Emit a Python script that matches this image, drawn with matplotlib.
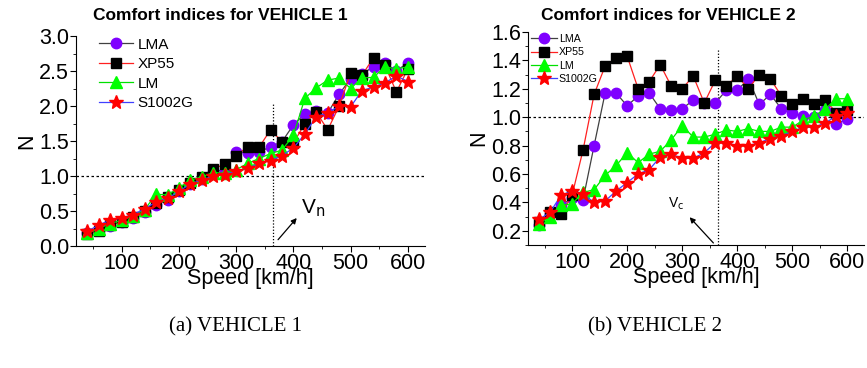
import matplotlib
matplotlib.use("Agg")
import matplotlib.pyplot as plt
from matplotlib.ticker import MultipleLocator

speed = [40, 60, 80, 100, 120, 140, 160, 180, 200, 220, 240, 260, 280, 300, 320,
         340, 360, 380, 400, 420, 440, 460, 480, 500, 520, 540, 560, 580, 600]

v1_lma = [0.18, 0.23, 0.29, 0.35, 0.40, 0.49, 0.59, 0.66, 0.79, 0.88, 0.96, 1.06, 1.09, 1.35, 1.33,
          1.34, 1.42, 1.49, 1.73, 1.89, 1.93, 1.90, 2.17, 2.39, 2.46, 2.56, 2.61, 2.50, 2.62]
v1_xp55 = [0.17, 0.22, 0.30, 0.35, 0.42, 0.50, 0.62, 0.70, 0.80, 0.90, 0.98, 1.10, 1.17, 1.29, 1.42,
           1.41, 1.66, 1.49, 1.47, 1.75, 1.91, 1.66, 2.00, 2.47, 2.44, 2.69, 2.58, 2.20, 2.53]
v1_lm = [0.18, 0.25, 0.32, 0.37, 0.43, 0.52, 0.74, 0.73, 0.83, 0.94, 0.99, 1.05, 1.04, 1.09, 1.18,
         1.25, 1.32, 1.37, 1.58, 2.11, 2.26, 2.37, 2.40, 2.25, 2.40, 2.41, 2.56, 2.53, 2.56]
v1_s1002g = [0.21, 0.30, 0.37, 0.40, 0.45, 0.53, 0.63, 0.68, 0.78, 0.89, 0.94, 1.00, 1.02, 1.07, 1.11,
             1.18, 1.22, 1.29, 1.40, 1.60, 1.85, 1.90, 2.00, 1.99, 2.22, 2.27, 2.33, 2.43, 2.35]

v2_lma = [0.24, 0.32, 0.38, 0.43, 0.42, 0.80, 1.17, 1.17, 1.08, 1.15, 1.17, 1.06, 1.05, 1.06, 1.12,
          1.10, 1.10, 1.19, 1.19, 1.27, 1.09, 1.16, 1.06, 1.03, 1.01, 1.00, 1.05, 0.95, 0.99]
v2_xp55 = [0.26, 0.33, 0.32, 0.45, 0.77, 1.16, 1.36, 1.42, 1.43, 1.20, 1.25, 1.37, 1.22, 1.20, 1.29,
           1.10, 1.26, 1.22, 1.29, 1.20, 1.30, 1.27, 1.15, 1.09, 1.13, 1.09, 1.12, 1.03, 1.05]
v2_lm = [0.25, 0.30, 0.38, 0.39, 0.47, 0.49, 0.59, 0.66, 0.75, 0.68, 0.74, 0.76, 0.84, 0.94, 0.86,
         0.86, 0.88, 0.91, 0.90, 0.92, 0.90, 0.90, 0.93, 0.93, 0.98, 1.01, 1.06, 1.13, 1.13]
v2_s1002g = [0.28, 0.33, 0.45, 0.48, 0.46, 0.40, 0.41, 0.48, 0.54, 0.60, 0.63, 0.72, 0.74, 0.71, 0.71,
             0.75, 0.82, 0.82, 0.80, 0.80, 0.82, 0.85, 0.87, 0.90, 0.93, 0.93, 0.96, 1.01, 1.03]

series_names = ["LMA", "XP55", "LM", "S1002G"]
titles = ["Comfort indices for VEHICLE 1", "Comfort indices for VEHICLE 2"]
captions = ["(a) VEHICLE 1", "(b) VEHICLE 2"]
v_ref = 365

plt.rcParams['font.family'] = ['Liberation Sans', 'DejaVu Sans']

fig = plt.figure(figsize=(8.67, 3.68), dpi=100)
W, H = 867, 368


def add_axes(l, r, t, b):
    return fig.add_axes([l / W, 1 - b / H, (r - l) / W, (b - t) / H])


ax1 = add_axes(76, 425, 36, 246)
ax2 = add_axes(528, 864, 32, 245)

styles = [
    dict(color="#404040", marker="o", mfc="#7f00ff", mec="#7f00ff", ms=7.5),
    dict(color="#ff2020", marker="s", mfc="black", mec="black", ms=6.8),
    dict(color="#00e000", marker="^", mfc="#00ff00", mec="#00ff00", ms=8),
    dict(color="#4040ff", marker="*", mfc="red", mec="red", ms=10),
]

data = [
    (ax1, [v1_lma, v1_xp55, v1_lm, v1_s1002g]),
    (ax2, [v2_lma, v2_xp55, v2_lm, v2_s1002g]),
]

for i, (ax, series) in enumerate(data):
    for name, vals, st in zip(series_names, series, styles):
        ax.plot(speed, vals, lw=0.9, label=name, **st)
    ax.set_xlim(20, 630)
    ax.xaxis.set_major_locator(MultipleLocator(100))
    ax.xaxis.set_minor_locator(MultipleLocator(50))
    ax.spines['top'].set_visible(False)
    ax.spines['right'].set_visible(False)
    ax.tick_params(axis='both', which='major', direction='out', length=4, labelsize=15.5, pad=1)
    ax.tick_params(axis='both', which='minor', direction='out', length=2.5)
    ax.set_xlabel("Speed [km/h]", fontsize=15.5, labelpad=-4)
    ax.set_ylabel("N", fontsize=15.5, labelpad=1)
    ax.axhline(1.0, color="black", ls=(0, (2, 2)), lw=0.9, zorder=0)

fig.text(220 / W, 1 - 16 / H, titles[0], fontsize=12.5, fontweight='bold', ha='center', va='center')
fig.text(668 / W, 1 - 15 / H, titles[1], fontsize=12.5, fontweight='bold', ha='center', va='center')

ax1.set_ylim(0, 3.0)
ax1.set_yticks([0.0, 0.5, 1.0, 1.5, 2.0, 2.5, 3.0])
ax1.set_yticklabels(["0.0", "0.5", "1.0", "1.5", "2.0", "2.5", "3.0"])
ax1.yaxis.set_minor_locator(MultipleLocator(0.25))
ax1.plot([v_ref, v_ref], [0, 2.05], color="black", ls=(0, (1, 1.5)), lw=0.9, zorder=0)
ax1.annotate("", xy=(409, 0.43), xytext=(370, 0.06),
             arrowprops=dict(arrowstyle="-|>", color="black", lw=0.9, mutation_scale=8))
ax1.text(414, 0.46, r"V$_{\mathrm{n}}$", fontsize=15, ha='left', va='baseline')
ax1.legend(loc='upper left', bbox_to_anchor=(0.04, 1.035), frameon=False, fontsize=11,
           handlelength=2.2, handletextpad=0.3, labelspacing=0.35, borderaxespad=0.2)

ax2.set_ylim(0.1, 1.6)
ax2.set_yticks([0.2, 0.4, 0.6, 0.8, 1.0, 1.2, 1.4, 1.6])
ax2.set_yticklabels(["0.2", "0.4", "0.6", "0.8", "1.0", "1.2", "1.4", "1.6"])
ax2.yaxis.set_minor_locator(MultipleLocator(0.1))
ax2.plot([v_ref, v_ref], [0.1, 1.48], color="black", ls=(0, (1, 1.5)), lw=0.9, zorder=0)
ax2.annotate("", xy=(310, 0.31), xytext=(360, 0.1),
             arrowprops=dict(arrowstyle="-|>", color="black", lw=0.9, mutation_scale=8))
ax2.text(274, 0.36, r"V$_{\mathrm{c}}$", fontsize=10, ha='left', va='baseline')
ax2.legend(loc='upper left', bbox_to_anchor=(-0.01, 1.02), frameon=False, fontsize=7.7,
           handlelength=2.4, handletextpad=0.2, labelspacing=0.3, borderaxespad=0.2)

for xc, cap in zip([235, 655], captions):
    fig.text(xc / W, 1 - 327 / H, cap, fontsize=15, ha='center', va='center',
             family=['Liberation Serif', 'DejaVu Serif'])

fig.savefig("out.png", dpi=100)
